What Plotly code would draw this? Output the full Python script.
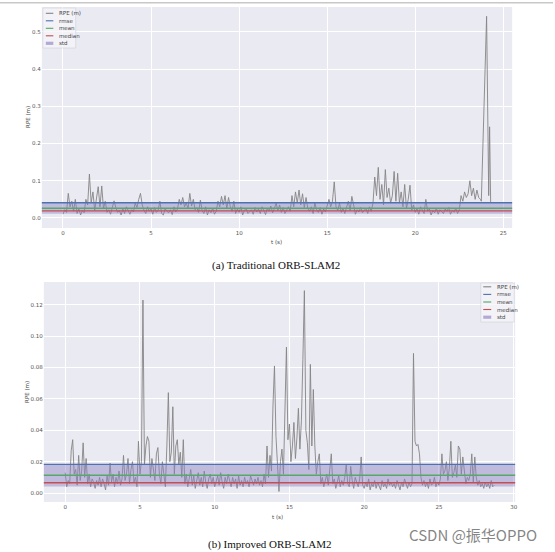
import plotly.graph_objects as go

W, H = 555, 552

# ---------------- (a) Traditional ORB-SLAM2 : one row per second, 10 samples / s
rpe_a_rows = [
    [0.010, 0.022, 0.015, 0.066, 0.030, 0.045, 0.018, 0.050, 0.012, 0.025],
    [0.008, 0.020, 0.014, 0.050, 0.035, 0.118, 0.040, 0.070, 0.020, 0.060],
    [0.084, 0.030, 0.086, 0.025, 0.045, 0.015, 0.022, 0.010, 0.030, 0.046],
    [0.028, 0.015, 0.020, 0.008, 0.024, 0.012, 0.030, 0.018, 0.010, 0.022],
    [0.016, 0.040, 0.028, 0.050, 0.066, 0.035, 0.020, 0.012, 0.030, 0.018],
    [0.024, 0.010, 0.028, 0.015, 0.020, 0.045, 0.012, 0.008, 0.025, 0.018],
    [0.014, 0.022, 0.009, 0.030, 0.016, 0.024, 0.050, 0.035, 0.055, 0.030],
    [0.040, 0.025, 0.066, 0.032, 0.050, 0.022, 0.028, 0.015, 0.048, 0.020],
    [0.012, 0.030, 0.008, 0.022, 0.014, 0.026, 0.010, 0.018, 0.045, 0.030],
    [0.058, 0.035, 0.060, 0.025, 0.055, 0.030, 0.018, 0.045, 0.012, 0.024],
    [0.015, 0.030, 0.008, 0.020, 0.026, 0.012, 0.018, 0.022, 0.010, 0.028],
    [0.016, 0.024, 0.012, 0.030, 0.020, 0.009, 0.026, 0.018, 0.032, 0.014],
    [0.025, 0.040, 0.020, 0.035, 0.015, 0.028, 0.012, 0.022, 0.030, 0.018],
    [0.060, 0.030, 0.070, 0.040, 0.075, 0.035, 0.065, 0.028, 0.055, 0.025],
    [0.018, 0.030, 0.012, 0.040, 0.022, 0.015, 0.028, 0.010, 0.024, 0.016],
    [0.035, 0.050, 0.030, 0.045, 0.097, 0.030, 0.020, 0.040, 0.015, 0.025],
    [0.012, 0.030, 0.045, 0.020, 0.058, 0.035, 0.010, 0.022, 0.016, 0.028],
    [0.014, 0.020, 0.026, 0.012, 0.030, 0.018, 0.040, 0.110, 0.060, 0.136],
    [0.050, 0.090, 0.035, 0.130, 0.055, 0.080, 0.040, 0.060, 0.125, 0.045],
    [0.120, 0.040, 0.070, 0.030, 0.090, 0.025, 0.050, 0.088, 0.020, 0.035],
    [0.015, 0.025, 0.010, 0.030, 0.020, 0.012, 0.050, 0.018, 0.024, 0.008],
    [0.020, 0.014, 0.026, 0.010, 0.022, 0.016, 0.012, 0.024, 0.018, 0.028],
    [0.010, 0.020, 0.015, 0.026, 0.012, 0.022, 0.060, 0.045, 0.070, 0.055],
    [0.065, 0.100, 0.060, 0.080, 0.050, 0.075, 0.055, 0.050],
]
tail_t_a = [23.75, 24.05, 24.17, 24.22, 24.28]
tail_v_a = [0.045, 0.542, 0.060, 0.245, 0.040]
rmse_a, mean_a, median_a, std_a = 0.041, 0.026, 0.019, 0.0145

# ---------------- (b) Improved ORB-SLAM2
rpe_b_rows = [
    [0.013, 0.004, 0.008, 0.006, 0.027, 0.034, 0.012, 0.015, 0.005, 0.024],
    [0.008, 0.014, 0.032, 0.010, 0.022, 0.006, 0.012, 0.004, 0.009, 0.007],
    [0.003, 0.008, 0.005, 0.010, 0.004, 0.009, 0.006, 0.002, 0.011, 0.005],
    [0.019, 0.007, 0.012, 0.004, 0.010, 0.006, 0.014, 0.005, 0.009, 0.024],
    [0.008, 0.012, 0.022, 0.006, 0.015, 0.020, 0.007, 0.010, 0.004, 0.033],
    [0.012, 0.020, 0.123, 0.018, 0.030, 0.036, 0.033, 0.010, 0.022, 0.016],
    [0.008, 0.025, 0.029, 0.012, 0.006, 0.020, 0.010, 0.004, 0.030, 0.064],
    [0.020, 0.026, 0.055, 0.012, 0.030, 0.034, 0.018, 0.026, 0.010, 0.034],
    [0.006, 0.012, 0.004, 0.009, 0.015, 0.005, 0.011, 0.003, 0.008, 0.013],
    [0.005, 0.010, 0.004, 0.014, 0.007, 0.003, 0.009, 0.012, 0.006, 0.010],
    [0.004, 0.008, 0.011, 0.005, 0.013, 0.007, 0.003, 0.010, 0.006, 0.012],
    [0.007, 0.004, 0.010, 0.006, 0.009, 0.003, 0.011, 0.005, 0.008, 0.004],
    [0.010, 0.006, 0.008, 0.004, 0.011, 0.007, 0.005, 0.009, 0.006, 0.010],
    [0.005, 0.008, 0.004, 0.012, 0.006, 0.030, 0.010, 0.024, 0.014, 0.056],
    [0.081, 0.036, 0.015, 0.001, 0.020, 0.028, 0.012, 0.045, 0.093, 0.034],
    [0.044, 0.020, 0.030, 0.045, 0.022, 0.035, 0.054, 0.028, 0.046, 0.085],
    [0.129, 0.040, 0.032, 0.015, 0.082, 0.030, 0.066, 0.030, 0.012, 0.020],
    [0.025, 0.006, 0.010, 0.004, 0.008, 0.012, 0.005, 0.018, 0.025, 0.006],
    [0.009, 0.003, 0.007, 0.011, 0.004, 0.008, 0.005, 0.010, 0.018, 0.006],
    [0.004, 0.017, 0.008, 0.003, 0.010, 0.006, 0.004, 0.009, 0.023, 0.005],
    [0.003, 0.007, 0.004, 0.009, 0.002, 0.006, 0.004, 0.008, 0.003, 0.007],
    [0.005, 0.002, 0.008, 0.004, 0.006, 0.003, 0.009, 0.005, 0.007, 0.004],
    [0.006, 0.003, 0.008, 0.005, 0.002, 0.007, 0.004, 0.009, 0.005, 0.003],
    [0.007, 0.004, 0.006, 0.089, 0.033, 0.030, 0.031, 0.025, 0.010, 0.005],
    [0.008, 0.004, 0.007, 0.003, 0.009, 0.005, 0.006, 0.010, 0.004, 0.007],
    [0.005, 0.009, 0.025, 0.012, 0.014, 0.020, 0.008, 0.016, 0.033, 0.010],
    [0.013, 0.018, 0.010, 0.030, 0.028, 0.012, 0.023, 0.015, 0.006, 0.010],
    [0.008, 0.012, 0.025, 0.007, 0.023, 0.010, 0.005, 0.008, 0.004, 0.006],
    [0.003, 0.007, 0.004, 0.006, 0.003, 0.008, 0.004, 0.005],
]
rmse_b, mean_b, median_b, std_b = 0.0183, 0.0113, 0.0066, 0.0072

legend_labels = ["RPE (m)", "rmse", "mean", "median", "std"]
x_ticks_a = [0, 5, 10, 15, 20, 25]
y_ticks_a = [0.0, 0.1, 0.2, 0.3, 0.4, 0.5]
x_ticks_b = [0, 5, 10, 15, 20, 25, 30]
y_ticks_b = [0.00, 0.02, 0.04, 0.06, 0.08, 0.10, 0.12]
captions = ["(a) Traditional ORB-SLAM2", "(b) Improved ORB-SLAM2"]
watermark = "CSDN @振华OPPO"

C_LINE = "#858585"
C_RMSE = "#4C72B0"
C_MEAN = "#55A868"
C_MED = "#C44E52"
C_STD = "#8172B2"
BG = "#EAEAF2"


def flatten(rows):
    t, v = [], []
    for sec, row in enumerate(rows):
        for i, val in enumerate(row):
            t.append(round(sec + i / 10, 2))
            v.append(val)
    return t, v


t_a, v_a = flatten(rpe_a_rows)
t_a += tail_t_a
v_a += tail_v_a
t_b, v_b = flatten(rpe_b_rows)

fig = go.Figure()
fig.add_trace(go.Scatter(x=t_a, y=v_a, mode="lines", line=dict(color=C_LINE, width=0.9),
                         xaxis="x", yaxis="y", showlegend=False, name=legend_labels[0]))
fig.add_trace(go.Scatter(x=t_b, y=v_b, mode="lines", line=dict(color=C_LINE, width=0.9),
                         xaxis="x2", yaxis="y2", showlegend=False, name=legend_labels[0]))


def px(x):
    return x / W


def py(y):
    return 1 - y / H


shapes = []
annotations = []

for xr, yr, rmse, mean, med, std in [("x", "y", rmse_a, mean_a, median_a, std_a),
                                     ("x2", "y2", rmse_b, mean_b, median_b, std_b)]:
    shapes.append(dict(type="rect", xref=xr + " domain", yref=yr, x0=0, x1=1,
                       y0=mean - std, y1=mean + std, fillcolor="#8F80C4", opacity=0.45,
                       line=dict(width=0), layer="above"))
    for val, col in [(rmse, C_RMSE), (mean, C_MEAN), (med, C_MED)]:
        shapes.append(dict(type="line", xref=xr + " domain", yref=yr, x0=0, x1=1,
                           y0=val, y1=val, line=dict(color=col, width=1.4), layer="above"))

# custom compact legends (pixel layout)
legend_cols = [C_LINE, C_RMSE, C_MEAN, C_MED, C_STD]
for (bx0, by0, bx1, by1, lx0, lx1, tx, rows) in [
        (43, 8, 76, 48, 46, 53.5, 57, [13.3, 20.8, 28.3, 35.8, 43.3]),
        (482.5, 283, 516, 322, 485, 493, 496.5, [286.8, 294.4, 302, 309.5, 317.2])]:
    shapes.append(dict(type="rect", xref="paper", yref="paper", x0=px(bx0), x1=px(bx1),
                       y0=py(by1), y1=py(by0), fillcolor="rgba(245,245,250,0.7)",
                       line=dict(color="rgba(205,205,215,0.9)", width=0.6), layer="above"))
    for k, (lab, col) in enumerate(zip(legend_labels, legend_cols)):
        yy = rows[k]
        if lab == "std":
            shapes.append(dict(type="rect", xref="paper", yref="paper", x0=px(lx0), x1=px(lx1),
                               y0=py(yy + 1.6), y1=py(yy - 1.6), fillcolor="#B3A9D6",
                               line=dict(width=0), layer="above"))
        else:
            shapes.append(dict(type="line", xref="paper", yref="paper", x0=px(lx0), x1=px(lx1),
                               y0=py(yy), y1=py(yy), line=dict(color=col, width=1.1), layer="above"))
        annotations.append(dict(text=lab, xref="paper", yref="paper", x=px(tx), y=py(yy),
                                xanchor="left", yanchor="middle", showarrow=False,
                                font=dict(size=5.5, color="#444", family="DejaVu Sans")))

# top border line of the page
shapes.append(dict(type="line", xref="paper", yref="paper", x0=0, x1=1, y0=py(2.7), y1=py(2.7),
                   line=dict(color="#c8c8c8", width=1.5)))

# captions
annotations.append(dict(text=captions[0], xref="paper", yref="paper", x=px(277), y=py(265),
                        xanchor="center", yanchor="middle", showarrow=False,
                        font=dict(size=11, color="#111", family="Liberation Serif")))
annotations.append(dict(text=captions[1], xref="paper", yref="paper", x=px(270), y=py(544),
                        xanchor="center", yanchor="middle", showarrow=False,
                        font=dict(size=11, color="#111", family="Liberation Serif")))
annotations.append(dict(text=watermark, xref="paper", yref="paper", x=px(475), y=py(534),
                        xanchor="center", yanchor="middle", showarrow=False,
                        font=dict(size=15, color="rgba(110,110,110,0.85)", family="Noto Sans CJK SC")))

# axis titles
annotations.append(dict(text="t (s)", xref="paper", yref="paper", x=px(277), y=py(242),
                        xanchor="center", yanchor="middle", showarrow=False,
                        font=dict(size=5.5, color="#444", family="DejaVu Sans")))
annotations.append(dict(text="t (s)", xref="paper", yref="paper", x=px(279), y=py(517),
                        xanchor="center", yanchor="middle", showarrow=False,
                        font=dict(size=5.5, color="#444", family="DejaVu Sans")))
annotations.append(dict(text="RPE (m)", xref="paper", yref="paper", x=px(28), y=py(117),
                        xanchor="center", yanchor="middle", showarrow=False, textangle=-90,
                        font=dict(size=5.5, color="#444", family="DejaVu Sans")))
annotations.append(dict(text="RPE (m)", xref="paper", yref="paper", x=px(27), y=py(392),
                        xanchor="center", yanchor="middle", showarrow=False, textangle=-90,
                        font=dict(size=5.5, color="#444", family="DejaVu Sans")))

axis_common = dict(showgrid=True, gridcolor="white", gridwidth=1, zeroline=False,
                   showline=False, ticks="", tickfont=dict(size=5.5, color="#555", family="DejaVu Sans"))

fig.update_layout(
    width=W, height=H, margin=dict(l=0, r=0, t=0, b=0),
    paper_bgcolor="white", plot_bgcolor=BG, showlegend=False,
    xaxis=dict(domain=[px(42), px(514)], anchor="y", range=[-1.2, 25.5],
               tickvals=x_ticks_a, ticktext=[str(v) for v in x_ticks_a], **axis_common),
    yaxis=dict(domain=[py(228), py(7)], anchor="x", range=[-0.027, 0.567],
               tickvals=y_ticks_a, ticktext=[f"{v:.1f}" for v in y_ticks_a], **axis_common),
    xaxis2=dict(domain=[px(44), px(517)], anchor="y2", range=[-1.43, 30.1],
                tickvals=x_ticks_b, ticktext=[str(v) for v in x_ticks_b], **axis_common),
    yaxis2=dict(domain=[py(502), py(282)], anchor="x2", range=[-0.0057, 0.1345],
                tickvals=y_ticks_b, ticktext=[f"{v:.2f}" for v in y_ticks_b], **axis_common),
    shapes=shapes, annotations=annotations,
)

fig.write_html(
    "out.html",
    config={"displayModeBar": False},
    post_script="document.body.style.margin='0';document.body.style.overflow='hidden';",
)
